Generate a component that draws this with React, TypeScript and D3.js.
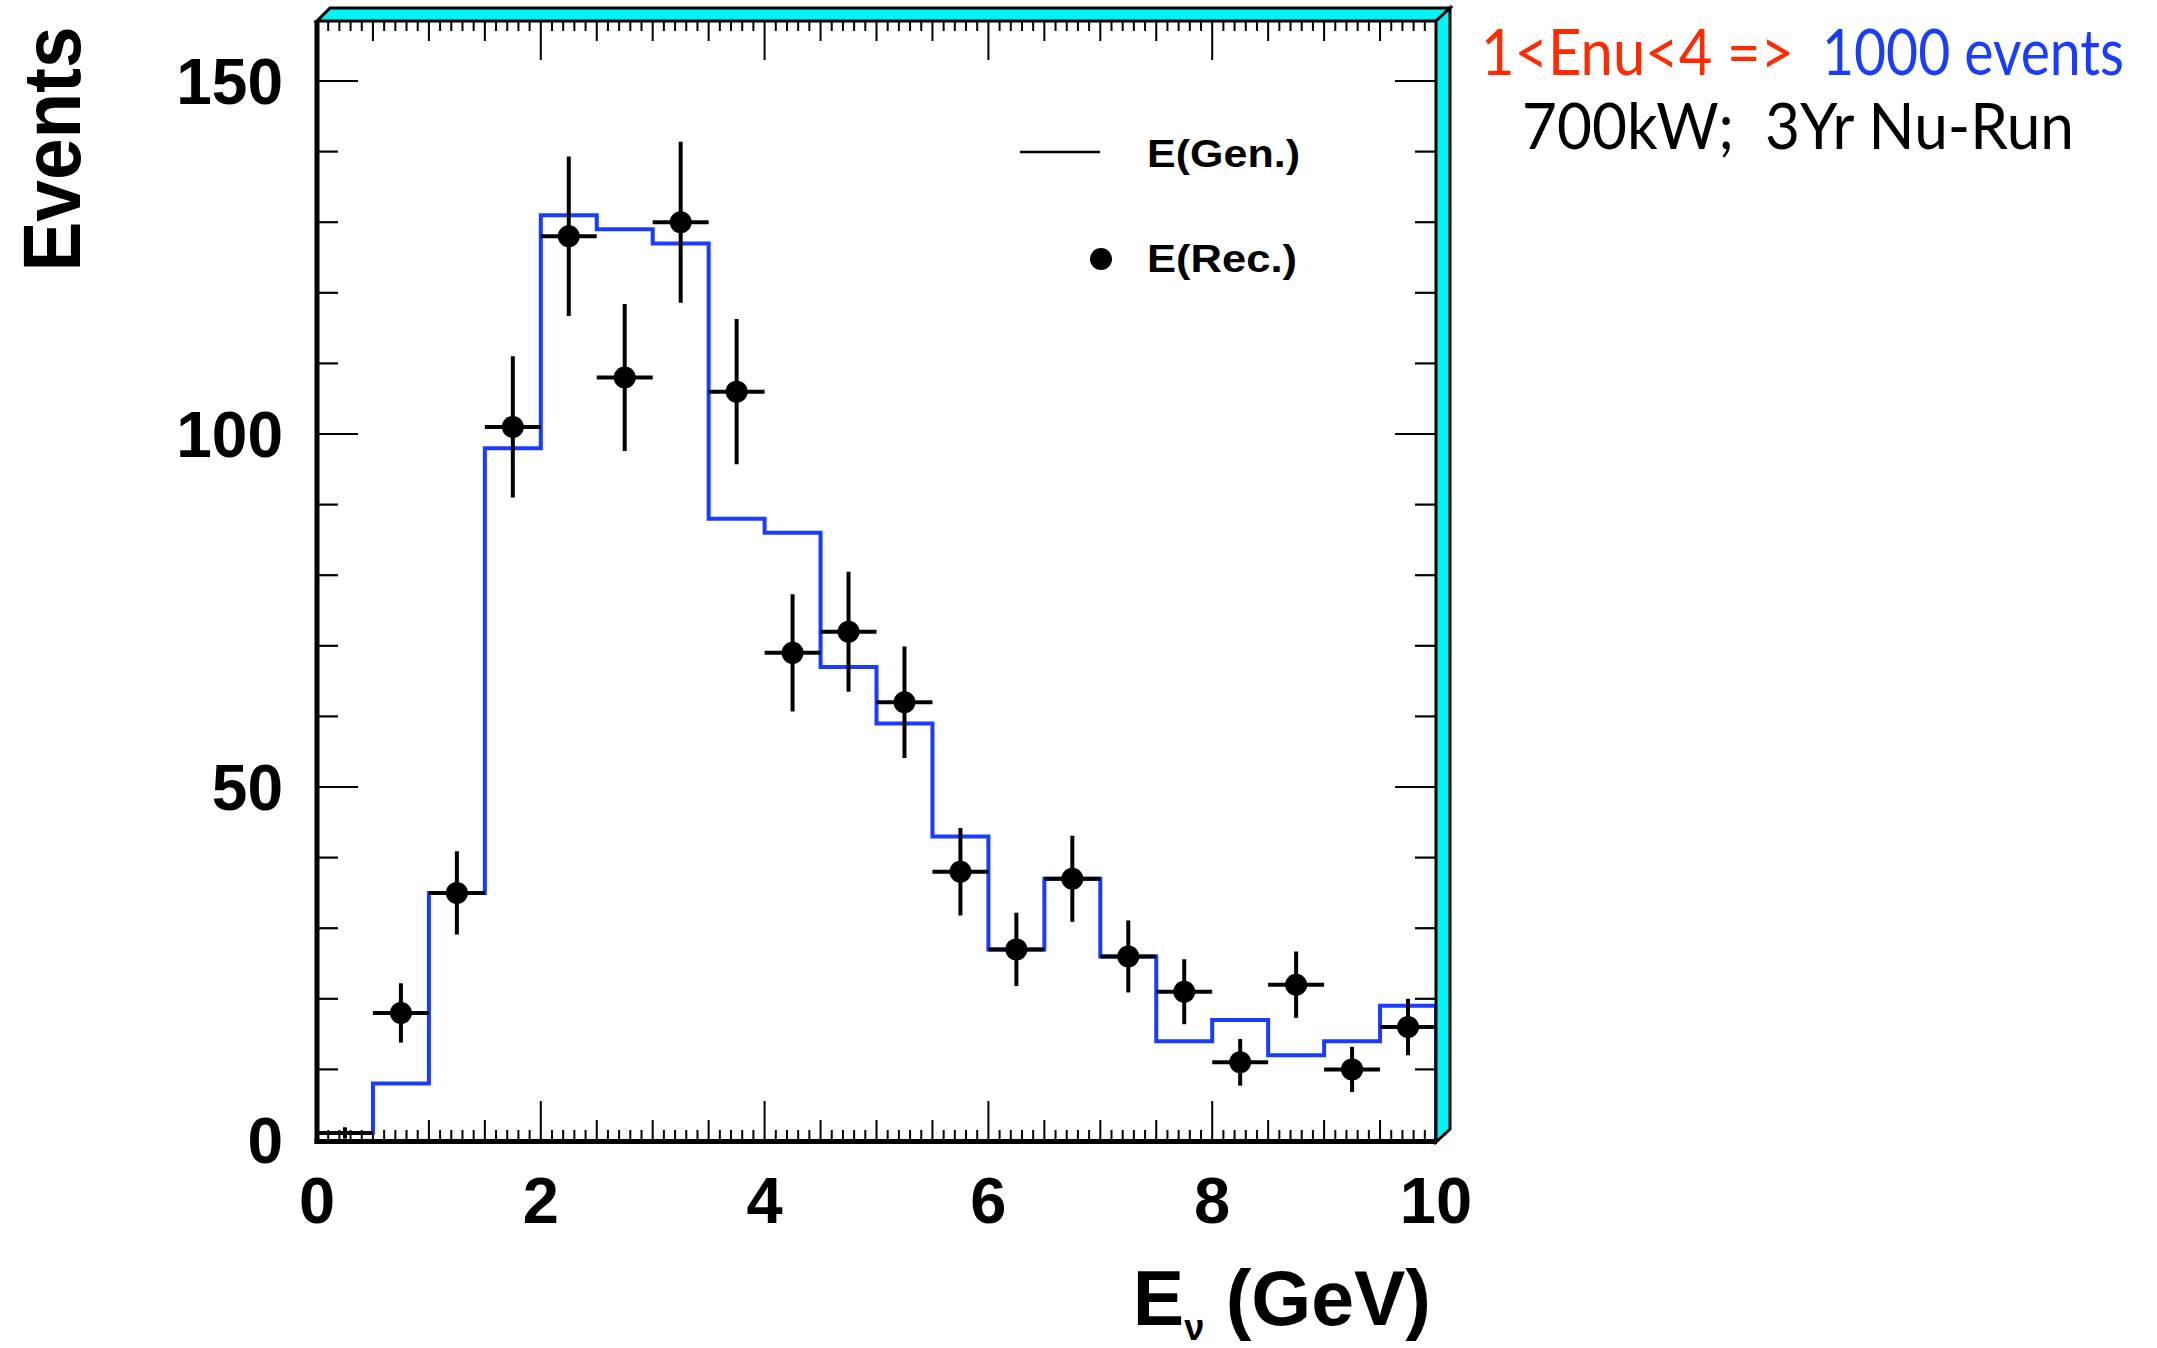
import React from "react";
import * as d3 from "d3";

// ---------- data ----------
const binEdges = [0, 0.5, 1, 1.5, 2, 2.5, 3, 3.5, 4, 4.5, 5, 5.5, 6, 6.5, 7, 7.5, 8, 8.5, 9, 9.5, 10];
const genValues = [1, 8, 35, 98, 131, 129, 127, 88, 86, 67, 59, 43, 27, 37, 26, 14, 17, 12, 14, 19];
const recValues = [1, 18, 35, 101, 128, 108, 130, 106, 69, 72, 62, 38, 27, 37, 26, 21, 11, 22, 10, 16];
const recErrors = [0.8, 4.2, 5.9, 10.0, 11.3, 10.4, 11.4, 10.3, 8.3, 8.5, 7.9, 6.2, 5.2, 6.1, 5.1, 4.6, 3.3, 4.7, 3.2, 4.0];
const xTickLabels = [0, 2, 4, 6, 8, 10];
const yTickLabels = [0, 50, 100, 150];
const legendLabels = ["E(Gen.)", "E(Rec.)"];

const W = 2157;
const H = 1348;
const X0 = 317, X1 = 1436;
const Y0 = 1140, Y1 = 21;
const YMAX = 158.5;

const BLUE = "#1a3cff";
const RED = "#ff2a00";
const CYAN = "#00f4f4";
const BOLD = "'Liberation Sans', Arial, Helvetica, sans-serif";
const HUM = "Lato, 'Open Sans', sans-serif";

export default function App() {
  const x = d3.scaleLinear().domain([0, 10]).range([X0, X1]);
  const y = d3.scaleLinear().domain([0, YMAX]).range([Y0, Y1]);

  // histogram step path
  const pts: [number, number][] = [[binEdges[0], 0]];
  genValues.forEach((v, i) => {
    pts.push([binEdges[i], v]);
    pts.push([binEdges[i + 1], v]);
  });
  pts.push([binEdges[binEdges.length - 1], 0]);
  const line = d3.line<[number, number]>().x((d) => x(d[0])).y((d) => y(d[1]));
  const histPath = line(pts) || "";

  // x ticks
  const xMinor = d3.range(0, 101).map((i) => i / 10);
  const xTickLen = (v: number) => {
    const k = Math.round(v * 10);
    if (k % 20 === 0) return 39;
    if (k % 5 === 0) return 20;
    return 10;
  };
  // y ticks
  const yTicks = d3.range(0, 151, 10);
  const yTickLen = (v: number) => (v % 50 === 0 ? 41 : 21);

  const bins = recValues.map((v, i) => ({
    lo: binEdges[i],
    hi: binEdges[i + 1],
    c: (binEdges[i] + binEdges[i + 1]) / 2,
    v,
    e: recErrors[i],
  }));

  return (
    <svg
      width={W}
      height={H}
      viewBox={`0 0 ${W} ${H}`}
      style={{ position: "absolute", left: 0, top: 0, background: "#fff" }}
    >
      <rect x={0} y={0} width={W} height={H} fill="#fff" />

      {/* ticks bottom & top */}
      {xMinor.map((v) => (
        <g key={"xt" + v} stroke="#000" strokeWidth={2}>
          <line x1={x(v)} x2={x(v)} y1={Y0} y2={Y0 - xTickLen(v)} />
          <line x1={x(v)} x2={x(v)} y1={Y1} y2={Y1 + xTickLen(v)} />
        </g>
      ))}
      {/* ticks left & right */}
      {yTicks.map((v) => (
        <g key={"yt" + v} stroke="#000" strokeWidth={2.2}>
          <line x1={X0} x2={X0 + yTickLen(v)} y1={y(v)} y2={y(v)} />
          <line x1={X1} x2={X1 - yTickLen(v)} y1={y(v)} y2={y(v)} />
        </g>
      ))}

      {/* histogram (generated) */}
      <path d={histPath} fill="none" stroke={BLUE} strokeWidth={4} strokeLinejoin="miter" />

      {/* reconstructed points */}
      {bins.map((b, i) => (
        <g key={"p" + i} stroke="#000" strokeWidth={4}>
          <line x1={x(b.lo)} x2={x(b.hi)} y1={y(b.v)} y2={y(b.v)} />
          <line x1={x(b.c)} x2={x(b.c)} y1={y(b.v - b.e)} y2={y(b.v + b.e)} />
          {b.v > 1 && <circle cx={x(b.c)} cy={y(b.v)} r={11} fill="#000" stroke="none" />}
        </g>
      ))}

      {/* frame: bevel top/right */}
      <polygon
        points={`${X0},${Y1} ${X0 + 13},${Y1 - 13} ${X1 + 14},${Y1 - 13} ${X1},${Y1}`}
        fill={CYAN}
        stroke="#000"
        strokeWidth={3}
        strokeLinejoin="miter"
      />
      <polygon
        points={`${X1},${Y1} ${X1 + 14},${Y1 - 13} ${X1 + 14},${Y0 + 2 - 13} ${X1},${Y0 + 2}`}
        fill={CYAN}
        stroke="#000"
        strokeWidth={3}
        strokeLinejoin="miter"
      />
      {/* frame: thick left & bottom */}
      <line x1={X0} x2={X0} y1={Y1 - 1} y2={Y0 + 4} stroke="#000" strokeWidth={5} />
      <line x1={X0 - 2.5} x2={X1 + 1} y1={Y0 + 1.5} y2={Y0 + 1.5} stroke="#000" strokeWidth={5} />

      {/* y tick labels */}
      {yTickLabels.map((v) => (
        <text
          key={"yl" + v}
          x={283}
          y={y(v)}
          dy="0.36em"
          textAnchor="end"
          fontFamily={BOLD}
          fontWeight="bold"
          fontSize={64}
          fill="#000"
        >
          {v}
        </text>
      ))}
      {/* x tick labels */}
      {xTickLabels.map((v) => (
        <text
          key={"xl" + v}
          x={x(v)}
          y={1223}
          textAnchor="middle"
          fontFamily={BOLD}
          fontWeight="bold"
          fontSize={65}
          fill="#000"
        >
          {v}
        </text>
      ))}

      {/* axis titles */}
      <text
        transform="translate(80,149) rotate(-90)"
        textAnchor="middle"
        fontFamily={BOLD}
        fontWeight="bold"
        fontSize={82}
        textLength={245}
        lengthAdjust="spacingAndGlyphs"
        fill="#000"
      >
        Events
      </text>
      <text x={1431} y={1325} textAnchor="end" fontFamily={BOLD} fontWeight="bold" fontSize={77} fill="#000" style={{ whiteSpace: "pre" }}>
        E
        <tspan fontSize={36} dy={15}>ν</tspan>
        <tspan dy={-15}> (GeV)</tspan>
      </text>

      {/* legend */}
      <line x1={1020} x2={1100} y1={152} y2={152} stroke="#000" strokeWidth={2.5} />
      <text x={1147} y={167} fontFamily={BOLD} fontWeight="bold" fontSize={38} textLength={153} lengthAdjust="spacingAndGlyphs" fill="#000">
        {legendLabels[0]}
      </text>
      <circle cx={1101} cy={259} r={11} fill="#000" />
      <text x={1147} y={272} fontFamily={BOLD} fontWeight="bold" fontSize={38} textLength={150} lengthAdjust="spacingAndGlyphs" fill="#000">
        {legendLabels[1]}
      </text>

      {/* annotations */}
      <text x={1481} y={75} fontFamily={HUM} fontSize={64} fill={RED} textLength={313} lengthAdjust="spacingAndGlyphs" style={{ whiteSpace: "pre" }}>
        {"1<Enu<4 =>"}
      </text>
      <text x={1822} y={75} fontFamily={HUM} fontSize={64} fill={BLUE} textLength={302} lengthAdjust="spacingAndGlyphs" style={{ whiteSpace: "pre" }}>
        {"1000 events"}
      </text>
      <text x={1522} y={149} fontFamily={HUM} fontSize={63} fill="#000" textLength={552} lengthAdjust="spacingAndGlyphs" style={{ whiteSpace: "pre" }}>
        {"700kW;  3Yr Nu-Run"}
      </text>
    </svg>
  );
}
